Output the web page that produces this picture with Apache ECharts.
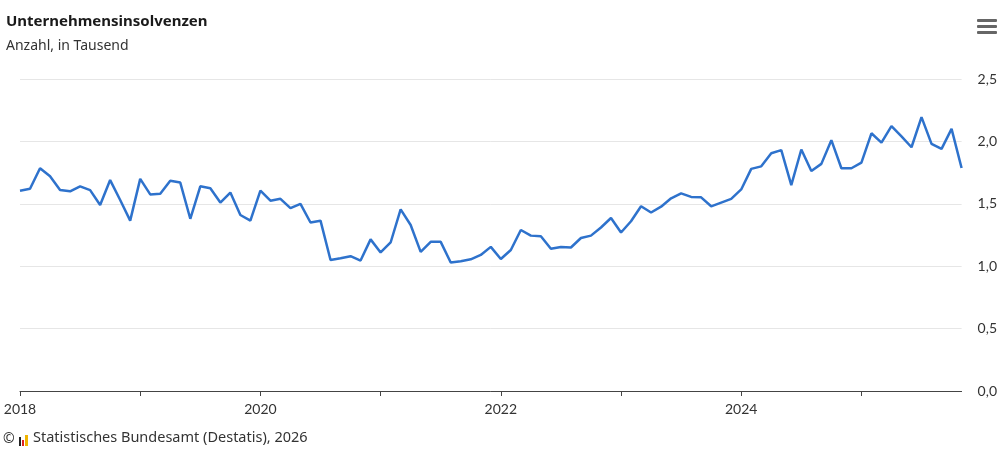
<!DOCTYPE html>
<html>
<head>
<meta charset="utf-8">
<script src="https://cdn.jsdelivr.net/npm/echarts@6/dist/echarts.min.js"></script>
<style>
  html, body { margin: 0; padding: 0; background: #fff; }
  #chart { width: 1000px; height: 449px; }
</style>
</head>
<body>
<div id="chart"></div>
<script>
// Unternehmensinsolvenzen, Anzahl in Tausend, monthly Jan 2018 - Nov 2025
const years = [2018, 2019, 2020, 2021, 2022, 2023, 2024, 2025]
const values2018 = [1.605, 1.62, 1.785, 1.72, 1.61, 1.60, 1.64, 1.61, 1.49, 1.69, 1.53, 1.365]
const values2019 = [1.70, 1.575, 1.58, 1.685, 1.67, 1.38, 1.64, 1.625, 1.51, 1.59, 1.41, 1.365]
const values2020 = [1.605, 1.525, 1.54, 1.465, 1.50, 1.35, 1.365, 1.05, 1.063, 1.08, 1.045, 1.215]
const values2021 = [1.11, 1.19, 1.455, 1.33, 1.115, 1.195, 1.195, 1.03, 1.04, 1.055, 1.09, 1.155]
const values2022 = [1.058, 1.13, 1.29, 1.245, 1.24, 1.14, 1.154, 1.15, 1.226, 1.245, 1.31, 1.386]
const values2023 = [1.27, 1.36, 1.48, 1.43, 1.477, 1.544, 1.584, 1.555, 1.552, 1.48, 1.51, 1.54]
const values2024 = [1.615, 1.78, 1.80, 1.905, 1.93, 1.65, 1.935, 1.763, 1.82, 2.01, 1.785, 1.785]
const values2025 = [1.83, 2.065, 1.99, 2.123, 2.04, 1.953, 2.195, 1.98, 1.94, 2.10, 1.787]
const yTicks = [0, 0.5, 1, 1.5, 2, 2.5]

const values = [].concat(values2018, values2019, values2020, values2021,
  values2022, values2023, values2024, values2025)
const months = values.map((v, i) => {
  const y = years[0] + Math.floor(i / 12)
  const m = (i % 12) + 1
  return y + '-' + (m < 10 ? '0' + m : m)
})

const font = 'Lato, "Noto Sans", sans-serif'
const textFont = '"Noto Sans", sans-serif'
const chart = echarts.init(document.getElementById('chart'))

chart.setOption({
  animation: false,
  textStyle: { fontFamily: font },
  title: {
    text: 'Unternehmensinsolvenzen',
    subtext: 'Anzahl, in Tausend',
    left: 1,
    top: 9,
    itemGap: 10,
    textStyle: { fontSize: 15, fontWeight: 'bold', color: '#1a1a1a', fontFamily: textFont },
    subtextStyle: { fontSize: 14, color: '#333', fontFamily: textFont }
  },
  grid: {
    left: 20,
    right: 38,
    top: 79,
    bottom: 58
  },
  xAxis: {
    type: 'category',
    data: months,
    boundaryGap: false,
    axisLine: { lineStyle: { color: '#444', width: 1 } },
    axisTick: {
      length: 5,
      lineStyle: { color: '#444' },
      interval: (i, v) => v.slice(5) === '01'
    },
    axisLabel: {
      color: '#333',
      fontSize: 14,
      margin: 11,
      interval: (i, v) => v.slice(5) === '01' && (+v.slice(0, 4)) % 2 === 0,
      formatter: v => v.slice(0, 4)
    },
    splitLine: { show: false }
  },
  yAxis: {
    type: 'value',
    position: 'right',
    min: yTicks[0],
    max: yTicks[yTicks.length - 1],
    interval: 0.5,
    axisLine: { show: false },
    axisTick: { show: false },
    axisLabel: {
      color: '#333',
      fontSize: 14,
      margin: 16,
      formatter: v => v.toFixed(1).replace('.', ',')
    },
    splitLine: { lineStyle: { color: '#e6e6e6' } }
  },
  series: [
    {
      name: 'Unternehmensinsolvenzen',
      type: 'line',
      data: values,
      symbol: 'none',
      lineStyle: { color: '#2e72cc', width: 2.5 },
      z: 3
    }
  ],
  graphic: [
    // menu icon
    { type: 'rect', shape: { x: 977, y: 19, width: 20, height: 3, r: 1 }, style: { fill: '#666' } },
    { type: 'rect', shape: { x: 977, y: 25, width: 20, height: 3, r: 1 }, style: { fill: '#666' } },
    { type: 'rect', shape: { x: 977, y: 31, width: 20, height: 3, r: 1 }, style: { fill: '#666' } },
    // credits
    { type: 'text', left: 3, top: 432, style: { text: '©', fontSize: 14, fill: '#333', fontFamily: textFont } },
    { type: 'rect', shape: { x: 19, y: 437, width: 2, height: 9 }, style: { fill: '#222' } },
    { type: 'rect', shape: { x: 22, y: 440, width: 2, height: 6 }, style: { fill: '#d22' } },
    { type: 'rect', shape: { x: 25, y: 435, width: 3, height: 11 }, style: { fill: '#f0b400' } },
    {
      type: 'text',
      left: 33,
      top: 430,
      style: {
        text: 'Statistisches Bundesamt (Destatis), 2026',
        fontSize: 14.5,
        fill: '#333',
        fontFamily: textFont
      }
    }
  ]
})
</script>
</body>
</html>
